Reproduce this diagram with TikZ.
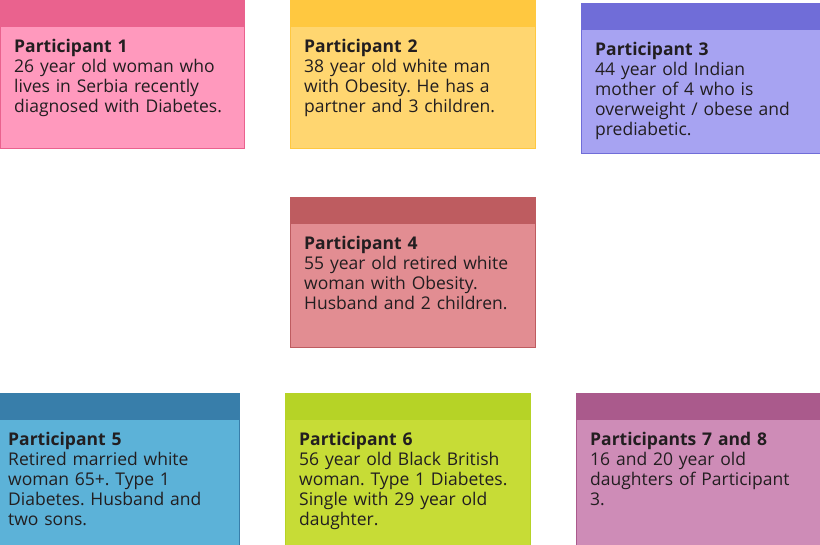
\documentclass[tikz,border=0pt]{standalone}
\usepackage{fontspec}
\setmainfont{Open Sans}
\usetikzlibrary{positioning}
\definecolor{pinkbody}{RGB}{255,153,189}
\definecolor{pinkhead}{RGB}{234,98,142}
\definecolor{sunbody}{RGB}{255,214,112}
\definecolor{sunhead}{RGB}{255,200,64}
\definecolor{lilacbody}{RGB}{167,163,242}
\definecolor{lilachead}{RGB}{112,109,216}
\definecolor{rosebody}{RGB}{226,141,146}
\definecolor{rosehead}{RGB}{190,92,96}
\definecolor{skybody}{RGB}{92,178,216}
\definecolor{skyhead}{RGB}{56,126,170}
\definecolor{limebody}{RGB}{199,220,54}
\definecolor{limehead}{RGB}{182,211,38}
\definecolor{plumbody}{RGB}{206,140,183}
\definecolor{plumhead}{RGB}{170,90,140}
\definecolor{inktext}{RGB}{34,30,32}
\frenchspacing
\tikzset{
  card/.style 2 args={anchor=north west, minimum width=245pt, minimum height=150pt,
    inner sep=0pt, fill=#1, draw=#2, line width=0.4pt,
    path picture={\fill[#2] (path picture bounding box.north west) rectangle
      ([yshift=-27pt]path picture bounding box.north east);}},
  cardtext/.style={anchor=north west, inner sep=0pt, align=left, text width=228pt,
    text=inktext, font=\fontsize{17.5}{20}\selectfont}
}
\begin{document}
\begin{tikzpicture}[x=1pt, y=-1pt]
  \useasboundingbox (0,0) rectangle (820,544);
  \clip (0,0) rectangle (820,544);
  % top row
  \node[card={pinkbody}{pinkhead}, minimum width=244pt, minimum height=148pt] (p1) at (0,0) {};
  \node[card={sunbody}{sunhead}, minimum height=148pt] (p2) at (290,0) {};
  \node[card={lilacbody}{lilachead}] (p3) at (581,3) {};
  % middle
  \node[card={rosebody}{rosehead}] (p4) at (290,197) {};
  % bottom row
  \node[card={skybody}{skyhead}, minimum height=170pt] (p5) at (-6,393) {};
  \node[card={limebody}{limehead}, minimum height=170pt] (p6) at (285,393) {};
  \node[card={plumbody}{plumhead}, minimum height=170pt] (p7) at (576,393) {};
  % texts
  \node[cardtext] (p1t) at ([xshift=14pt, yshift=-39pt]p1.north west)
    {\textbf{Participant 1}\\26 year old woman who\\lives in Serbia recently\\diagnosed with Diabetes.};
  \node[cardtext] (p2t) at ([xshift=14pt, yshift=-39pt]p2.north west)
    {\textbf{Participant 2}\\38 year old white man\\with Obesity. He has a\\partner and 3 children.};
  \node[cardtext] (p3t) at ([xshift=14pt, yshift=-39pt]p3.north west)
    {\textbf{Participant 3}\\44 year old Indian\\mother of 4 who is\\overweight / obese and\\prediabetic.};
  \node[cardtext] (p4t) at ([xshift=14pt, yshift=-39pt]p4.north west)
    {\textbf{Participant 4}\\55 year old retired white\\woman with Obesity.\\Husband and 2 children.};
  \node[cardtext] (p5t) at ([xshift=14pt, yshift=-39pt]p5.north west)
    {\textbf{Participant 5}\\Retired married white\\woman 65+. Type 1\\Diabetes. Husband and\\two sons.};
  \node[cardtext] (p6t) at ([xshift=14pt, yshift=-39pt]p6.north west)
    {\textbf{Participant 6}\\56 year old Black British\\woman. Type 1 Diabetes.\\Single with 29 year old\\daughter.};
  \node[cardtext] (p7t) at ([xshift=14pt, yshift=-39pt]p7.north west)
    {\textbf{Participants 7 and 8}\\16 and 20 year old\\daughters of Participant\\3.};
\end{tikzpicture}
\end{document}
